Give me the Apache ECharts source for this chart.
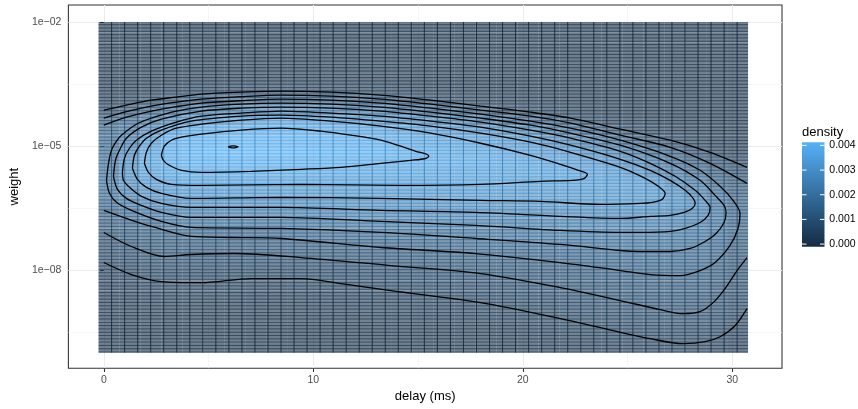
<!DOCTYPE html>
<html>
<head>
<meta charset="utf-8">
<script src="https://cdn.jsdelivr.net/npm/echarts@6/dist/echarts.min.js"></script>
<style>
  html, body { margin: 0; padding: 0; background: #ffffff; }
  #chart { width: 858px; height: 409px; }
</style>
</head>
<body>
<div id="chart"></div>
<script>
// Delay bin centres (ms)
const delayBins = [0.25, 1.25, 2.25, 3.25, 4.25, 5.25, 6.25, 7.25, 8.25, 9.25, 10.25, 11.25, 12.25, 13.25, 14.25, 15.25,
  16.25, 17.25, 18.25, 19.25, 20.25, 21.25, 22.25, 23.25, 24.25, 25.25, 26.25, 27.25, 28.25, 29.25, 30.25];

// log10(weight) bin centres, top row first
const logWeightBins = [-2.125, -2.375, -2.625, -2.875, -3.125, -3.375, -3.625, -3.875, -4.125, -4.375, -4.625,
  -4.875, -5.125, -5.375, -5.625, -5.875, -6.125, -6.375, -6.625, -6.875, -7.125, -7.375, -7.625, -7.875,
  -8.125, -8.375, -8.625, -8.875, -9.125, -9.375, -9.625, -9.875];

// Estimated 2D density (units of 1e-5), one row per delay bin, values follow logWeightBins
const DENSITY_UNIT = 1e-5;
const densityCols = [
  [0,0,0,0,0,1,3,12,45,101,128,139,150,163,170,174,158,137,117,99,80,66,53,40,28,19,12,7,4,2,1,0],
  [0,0,0,0,0,1,5,22,71,129,162,193,230,255,268,250,223,183,143,112,95,78,63,48,34,22,14,8,4,2,1,0],
  [0,0,0,0,0,2,9,38,110,175,232,290,326,335,322,298,264,223,176,130,107,90,74,59,44,31,19,11,6,3,1,0],
  [0,0,0,0,0,3,14,55,134,218,306,358,365,363,345,319,287,241,202,155,115,98,81,65,49,35,23,14,8,4,2,1],
  [0,0,0,0,1,4,20,76,172,264,338,368,382,374,360,329,297,259,215,174,130,101,78,64,49,36,25,15,9,4,2,1],
  [0,0,0,0,1,5,25,90,188,279,347,376,398,379,360,328,296,258,215,174,132,102,78,63,48,34,24,14,8,4,2,1],
  [0,0,0,0,1,5,28,100,199,291,355,385,395,377,360,327,296,258,215,174,133,102,78,62,45,31,20,12,6,3,1,0],
  [0,0,0,0,1,5,30,110,212,308,361,382,398,377,358,327,295,258,215,174,134,104,80,62,45,30,19,11,6,3,1,0],
  [0,0,0,0,1,6,32,120,223,323,364,382,395,375,356,326,294,257,215,174,135,106,82,63,45,30,19,11,6,3,1,0],
  [0,0,0,0,1,6,31,118,220,319,361,378,391,372,353,325,294,258,218,177,140,109,85,67,51,36,25,15,9,4,2,1],
  [0,0,0,0,1,5,28,110,212,304,352,373,388,370,351,325,294,259,220,180,144,113,89,70,54,38,27,17,10,5,2,1],
  [0,0,0,0,1,5,25,102,205,290,344,369,383,368,349,325,294,260,222,183,147,117,94,73,57,40,28,18,11,6,3,1],
  [0,0,0,0,1,4,22,93,196,283,337,365,379,365,346,325,296,262,226,188,152,122,98,76,60,43,30,20,12,7,3,1],
  [0,0,0,0,1,4,20,85,188,274,331,361,375,362,344,325,297,264,228,191,155,127,103,80,64,47,33,23,14,8,4,2],
  [0,0,0,0,1,3,15,62,165,254,320,345,365,359,342,325,298,265,230,194,159,131,107,85,67,51,37,26,16,10,5,2],
  [0,0,0,0,0,2,11,39,141,236,302,335,358,355,340,324,298,267,232,197,162,134,110,89,70,55,40,28,18,11,6,3],
  [0,0,0,0,0,1,8,31,119,218,288,326,344,351,337,323,298,268,234,200,166,138,113,92,73,57,42,30,20,12,7,3],
  [0,0,0,0,0,1,5,23,95,199,273,320,336,351,337,323,299,270,236,203,170,141,116,95,75,60,45,33,22,14,8,4],
  [0,0,0,0,0,1,4,16,71,175,256,306,329,343,334,322,299,271,237,206,174,145,119,99,79,64,48,36,25,16,10,5],
  [0,0,0,0,0,0,2,10,39,142,233,291,322,337,331,320,298,273,239,208,178,149,123,103,84,68,53,39,28,18,11,6],
  [0,0,0,0,0,0,1,7,30,113,209,279,310,328,330,318,297,274,240,210,181,153,128,107,89,73,59,44,32,22,14,8],
  [0,0,0,0,0,0,0,5,20,86,169,242,292,322,328,317,297,276,245,214,185,156,132,111,94,77,64,50,37,26,17,10],
  [0,0,0,0,0,0,0,3,14,58,140,216,275,307,323,315,297,279,249,219,190,162,139,118,100,83,70,57,44,33,23,15],
  [0,0,0,0,0,0,0,1,8,31,97,185,240,288,312,309,295,281,251,222,193,167,144,123,107,92,77,64,51,38,27,18],
  [0,0,0,0,0,0,0,0,4,18,63,138,211,264,296,304,293,281,253,223,195,171,149,128,111,97,83,70,56,43,31,21],
  [0,0,0,0,0,0,0,0,2,9,36,99,170,224,277,298,290,281,252,223,195,173,151,132,115,102,89,75,62,49,37,27],
  [0,0,0,0,0,0,0,0,1,4,20,67,122,185,228,281,286,275,246,219,194,172,152,134,117,105,93,81,68,54,40,29],
  [0,0,0,0,0,0,0,0,0,2,10,37,89,137,186,224,257,255,235,212,190,171,153,136,119,108,97,86,74,60,46,35],
  [0,0,0,0,0,0,0,0,0,1,5,14,49,89,130,174,208,238,216,197,178,159,144,130,116,104,93,81,69,56,44,33],
  [0,0,0,0,0,0,0,0,0,0,1,4,21,57,88,117,153,174,183,167,155,142,129,117,105,94,82,70,58,46,35,24],
  [0,0,0,0,0,0,0,0,0,0,0,2,9,36,62,85,100,115,124,119,110,101,93,84,76,67,58,50,41,30,20,13]
];

// Density contour paths, [delay, log10(weight)]; levels 0.0004 apart, outermost first
const level1Upper = [[0,-4.134],[1.081,-4.013],[2.271,-3.892],[3.462,-3.819],[4.652,-3.746],[6.557,-3.698],[8.462,-3.673],[10.843,-3.698],[13.224,-3.770],[15.605,-3.892],[17.986,-4.037],[20.367,-4.183],[22.271,-4.328],[24.652,-4.595],[27.033,-4.862],[28.938,-5.153],[30.700,-5.517]];
const level1Lower = [[0,-7.821],[1.319,-8.112],[2.748,-8.281],[4.652,-8.306],[7.033,-8.209],[9.414,-8.209],[11.319,-8.330],[13.700,-8.500],[17.986,-8.791],[21.795,-9.179],[24.319,-9.470],[26.081,-9.664],[27.652,-9.785],[28.700,-9.737],[29.414,-9.616],[30.129,-9.349],[30.700,-8.937]];
const level2Upper = [[0,-4.328],[1.081,-4.171],[2.271,-4.037],[3.462,-3.940],[4.652,-3.867],[6.557,-3.807],[8.462,-3.770],[10.843,-3.795],[13.224,-3.867],[15.605,-3.989],[17.986,-4.134],[20.367,-4.280],[22.271,-4.449],[24.652,-4.740],[27.033,-5.032],[28.938,-5.420],[30.700,-5.905]];
const level2Lower = [[0,-7.093],[1.319,-7.433],[2.890,-7.675],[4.176,-7.627],[6.224,-7.603],[9.414,-7.700],[13.700,-7.894],[17.986,-8.087],[21.795,-8.427],[24.652,-8.742],[26.557,-8.961],[27.652,-9.058],[28.462,-9.009],[29.081,-8.791],[29.652,-8.451],[30.224,-8.015],[30.700,-7.700]];
const level3 = [[0,-4.498],[1.081,-4.304],[2.271,-4.158],[3.462,-4.049],[4.652,-3.964],[6.557,-3.904],[8.462,-3.867],[10.843,-3.892],[13.224,-3.964],[15.605,-4.086],[17.986,-4.231],[20.367,-4.401],[22.271,-4.571],[24.652,-4.862],[27.033,-5.250],[28.462,-5.589],[29.414,-5.977],[30.033,-6.317],[30.367,-6.632],[30.271,-6.996],[29.890,-7.408],[29.176,-7.821],[28.462,-8.015],[27.510,-8.136],[26.081,-8.112],[24.652,-8.015],[21.795,-7.821],[17.748,-7.603],[13.224,-7.457],[8.462,-7.239],[6.081,-7.215],[4.176,-7.190],[2.271,-6.948],[1.081,-6.754],[0,-6.560]];
const level4 = [[0.129,-5.832],[0.224,-5.420],[0.367,-5.104],[0.605,-4.886],[0.843,-4.740],[1.557,-4.474],[2.271,-4.328],[3.462,-4.158],[4.652,-4.061],[6.557,-3.989],[8.462,-3.964],[10.843,-3.989],[13.224,-4.061],[15.605,-4.183],[17.986,-4.328],[20.367,-4.498],[22.271,-4.692],[24.652,-4.983],[27.033,-5.420],[28.462,-5.832],[29.176,-6.196],[29.605,-6.438],[29.700,-6.608],[29.605,-6.851],[29.224,-7.118],[28.700,-7.311],[27.986,-7.481],[27.033,-7.554],[25.605,-7.554],[24.652,-7.530],[21.795,-7.384],[17.748,-7.239],[13.224,-7.093],[8.462,-6.996],[4.176,-6.972],[2.748,-6.826],[1.319,-6.560],[0.605,-6.365],[0.271,-6.147],[0.129,-5.832]];
const level5 = [[0.462,-5.735],[0.557,-5.347],[0.748,-5.104],[1.081,-4.813],[1.795,-4.546],[2.748,-4.352],[4.652,-4.158],[6.557,-4.086],[8.462,-4.061],[10.843,-4.086],[13.224,-4.158],[15.605,-4.280],[17.986,-4.425],[20.367,-4.619],[22.271,-4.813],[24.652,-5.129],[26.081,-5.420],[27.271,-5.735],[28.224,-6.074],[28.700,-6.317],[28.938,-6.487],[28.843,-6.681],[28.462,-6.851],[27.748,-6.996],[27.033,-7.069],[25.605,-7.093],[24.652,-7.093],[21.795,-7.045],[17.748,-6.923],[13.224,-6.826],[8.462,-6.729],[4.176,-6.729],[2.748,-6.608],[1.795,-6.438],[1.081,-6.268],[0.652,-6.050],[0.462,-5.735]];
const level6 = [[0.890,-5.638],[0.986,-5.298],[1.224,-5.056],[1.557,-4.862],[2.271,-4.643],[3.462,-4.425],[4.652,-4.280],[6.557,-4.207],[8.462,-4.158],[10.843,-4.207],[13.224,-4.280],[15.605,-4.401],[17.986,-4.546],[20.367,-4.765],[22.271,-4.983],[24.652,-5.323],[26.081,-5.589],[27.033,-5.832],[27.748,-6.074],[28.129,-6.268],[28.224,-6.390],[28.081,-6.511],[27.700,-6.608],[27.033,-6.681],[26.081,-6.705],[24.652,-6.754],[21.795,-6.705],[17.748,-6.608],[13.224,-6.560],[8.462,-6.487],[4.176,-6.487],[2.748,-6.390],[1.795,-6.220],[1.224,-6.002],[0.938,-5.832],[0.890,-5.638]];
const level7 = [[1.367,-5.541],[1.462,-5.226],[1.700,-5.007],[2.033,-4.813],[2.748,-4.619],[4.176,-4.401],[6.557,-4.280],[8.462,-4.255],[10.843,-4.304],[13.224,-4.401],[15.605,-4.522],[17.986,-4.692],[20.367,-4.910],[22.271,-5.153],[24.652,-5.517],[25.843,-5.783],[26.462,-5.977],[26.795,-6.147],[26.652,-6.293],[26.176,-6.365],[25.605,-6.390],[23.700,-6.414],[20.843,-6.341],[17.986,-6.317],[13.224,-6.268],[8.462,-6.244],[4.176,-6.268],[2.748,-6.147],[2.033,-6.002],[1.605,-5.808],[1.367,-5.541]];
const level8 = [[1.938,-5.420],[2.033,-5.153],[2.271,-4.935],[2.748,-4.740],[3.462,-4.571],[4.652,-4.474],[6.557,-4.377],[8.462,-4.328],[10.843,-4.401],[13.224,-4.522],[15.605,-4.692],[17.986,-4.935],[20.367,-5.226],[21.795,-5.444],[22.652,-5.589],[23.081,-5.686],[22.938,-5.783],[22.367,-5.832],[20.843,-5.856],[17.986,-5.929],[14.176,-5.953],[9.414,-5.929],[4.652,-5.953],[3.224,-5.929],[2.510,-5.808],[2.129,-5.638],[1.938,-5.420]];
const level9 = [[2.748,-5.226],[2.890,-5.007],[3.224,-4.862],[3.700,-4.789],[4.652,-4.716],[6.557,-4.619],[8.462,-4.571],[10.367,-4.643],[11.795,-4.740],[13.224,-4.862],[14.176,-5.007],[14.890,-5.129],[15.414,-5.201],[15.510,-5.250],[15.319,-5.310],[14.652,-5.347],[13.224,-5.420],[11.319,-5.517],[9.414,-5.565],[7.033,-5.614],[4.652,-5.638],[3.700,-5.589],[3.129,-5.468],[2.843,-5.347],[2.748,-5.226]];
const level10 = [[5.938,-5.022],[6.057,-5.002],[6.176,-4.997],[6.295,-5.002],[6.414,-5.022],[6.295,-5.042],[6.176,-5.047],[6.057,-5.042],[5.938,-5.022]];

// Axis breaks
const delayTicks = [0, 10, 20, 30];
const delayMinorTicks = [5, 15, 25];
const weightTicks = [-8, -5, -2];
const weightMinorTicks = [-9.5, -6.5, -3.5];
const densityBreaks = [0, 0.001, 0.002, 0.003, 0.004];

// Fill scale
const FILL_LOW = [19, 43, 67];      // #132B43
const FILL_HIGH = [86, 177, 247];   // #56B1F7
const FILL_MIN = 0, FILL_MAX = 0.00402;
const TILE_ALPHA = 0.6;
const CELL_W = 1.0, CELL_H = 0.25;

function fillRGB(v) {
  let t = (v - FILL_MIN) / (FILL_MAX - FILL_MIN);
  t = Math.max(0, Math.min(1, t));
  return FILL_LOW.map((c, i) => Math.round(c + (FILL_HIGH[i] - c) * t));
}
function rgbStr(a) { return 'rgb(' + a[0] + ',' + a[1] + ',' + a[2] + ')'; }

const tileData = [];
delayBins.forEach((dx, i) => {
  logWeightBins.forEach((lw, j) => {
    tileData.push([dx, lw, densityCols[i][j] * DENSITY_UNIT]);
  });
});

// Fine raster of the underlying estimate grid, used for the tile texture
const FINE_Y0 = -10, FINE_Y1 = -2, FINE_NY = 100;
const FINE_X0 = -0.25, FINE_X1 = 30.85, FINE_NX = 100;

function renderTile(params, api) {
  const x = api.value(0), lw = api.value(1), d = api.value(2);
  const x0 = x - CELL_W / 2, x1 = x + CELL_W / 2;
  const yb = lw - CELL_H / 2, yt = lw + CELL_H / 2;
  const pTL = api.coord([x0, yt]);
  const pBR = api.coord([x1, yb]);
  const left = pTL[0], top = pTL[1];
  const w = pBR[0] - pTL[0], h = pBR[1] - pTL[1];
  const rgb = fillRGB(d);
  const col = rgbStr(rgb);
  const dark = rgbStr(rgb.map(c => Math.round(c * 0.82)));
  const children = [{
    type: 'rect', shape: { x: left, y: top, width: w, height: h },
    style: { fill: col, opacity: TILE_ALPHA }
  }];
  const dy = (FINE_Y1 - FINE_Y0) / FINE_NY;
  for (let k = 0; k < FINE_NY; k++) {
    const e = FINE_Y0 + k * dy;
    if (e < yb - 1e-9 || e >= yt - 1e-9) continue;
    const py = api.coord([x, e])[1];
    children.push({
      type: 'rect', shape: { x: left, y: py - 1.1, width: w, height: 1.1 },
      style: { fill: col, opacity: TILE_ALPHA }
    });
  }
  const dxf = (FINE_X1 - FINE_X0) / FINE_NX;
  for (let k = 2; k < FINE_NX; k += 2) {
    const xe = FINE_X0 + k * dxf;
    if (xe < x0 - 1e-9 || xe >= x1 - 1e-9) continue;
    const px = api.coord([xe, lw])[0];
    children.push({
      type: 'rect', shape: { x: px - 0.5, y: top, width: 1, height: h },
      style: { fill: dark, opacity: 0.85 }
    });
  }
  return { type: 'group', children: children };
}

const contourPaths = [level1Upper, level1Lower, level2Upper, level2Lower, level3, level4,
  level5, level6, level7, level8, level9, level10];

const contourSeries = contourPaths.map(path => ({
  type: 'line',
  data: path,
  xAxisIndex: 0,
  yAxisIndex: 0,
  showSymbol: false,
  symbol: 'none',
  smooth: 0.3,
  silent: true,
  animation: false,
  z: 5,
  lineStyle: { color: '#000000', width: 1.3 }
}));

function sciLabel(v) {
  const n = Math.round(Math.abs(v));
  return '1e' + (v < 0 ? '\u2212' : '+') + (n < 10 ? '0' + n : '' + n);
}

// Colour bar guide
const BAR_X = 802, BAR_Y = 142.3, BAR_W = 22.5, BAR_H = 104.4;
const BAR_INSET = BAR_H / 40;
function barY(v) {
  return BAR_Y + BAR_H - BAR_INSET - (v - FILL_MIN) / (FILL_MAX - FILL_MIN) * (BAR_H - 2 * BAR_INSET);
}
const legendElements = [
  {
    type: 'text', left: BAR_X, top: 126,
    style: { text: 'density', fill: '#000000', font: '13px "Liberation Sans", Arial, sans-serif' }
  },
  {
    type: 'rect', shape: { x: BAR_X, y: BAR_Y, width: BAR_W, height: BAR_H },
    style: {
      fill: new echarts.graphic.LinearGradient(0, 1, 0, 0, [
        { offset: 0, color: rgbStr(FILL_LOW) },
        { offset: 1, color: rgbStr(FILL_HIGH) }
      ])
    }
  }
];
densityBreaks.forEach(v => {
  const y = barY(v);
  legendElements.push({
    type: 'line', shape: { x1: BAR_X, y1: y, x2: BAR_X + BAR_W / 5, y2: y },
    style: { stroke: '#ffffff', lineWidth: 1 }
  });
  legendElements.push({
    type: 'line', shape: { x1: BAR_X + BAR_W * 4 / 5, y1: y, x2: BAR_X + BAR_W, y2: y },
    style: { stroke: '#ffffff', lineWidth: 1 }
  });
  legendElements.push({
    type: 'text', x: 829.3, y: y,
    style: {
      text: v.toFixed(3), fill: '#000000', font: '10.5px "Liberation Sans", Arial, sans-serif',
      textAlign: 'left', textVerticalAlign: 'middle'
    }
  });
});

const chart = echarts.init(document.getElementById('chart'), null, { renderer: 'canvas' });

const axisFont = '"Liberation Sans", Arial, sans-serif';
chart.setOption({
  animation: false,
  backgroundColor: '#ffffff',
  grid: {
    left: 67, top: 5, width: 715, height: 363.3,
    show: true, backgroundColor: '#ffffff', borderColor: '#333333', borderWidth: 1.07
  },
  xAxis: [
    {
      type: 'value', min: -1.69, max: 32.37,
      name: 'delay (ms)', nameLocation: 'middle', nameGap: 20,
      nameTextStyle: { color: '#000000', fontSize: 13, fontFamily: axisFont },
      axisLine: { show: false },
      axisTick: { show: true, customValues: delayTicks, length: 3.7, lineStyle: { color: '#333333', width: 1.07 } },
      axisLabel: { show: true, customValues: delayTicks, margin: 6, color: '#4D4D4D', fontSize: 10.5, fontFamily: axisFont },
      splitLine: { show: true, lineStyle: { color: '#EBEBEB', width: 1.07 } }
    },
    {
      type: 'value', min: -1.69, max: 32.37, position: 'bottom',
      axisLine: { show: false },
      axisTick: { show: false, customValues: delayMinorTicks },
      axisLabel: { show: false, customValues: delayMinorTicks },
      splitLine: { show: true, lineStyle: { color: '#F0F0F0', width: 0.6 } }
    }
  ],
  yAxis: [
    {
      type: 'value', min: -10.38, max: -1.59,
      name: 'weight', nameLocation: 'middle', nameGap: 41, nameRotate: 90,
      nameTextStyle: { color: '#000000', fontSize: 13, fontFamily: axisFont },
      axisLine: { show: false },
      axisTick: { show: true, customValues: weightTicks, length: 3.7, lineStyle: { color: '#333333', width: 1.07 } },
      axisLabel: { show: true, customValues: weightTicks, margin: 7, color: '#4D4D4D', fontSize: 10.5, fontFamily: axisFont, formatter: sciLabel },
      splitLine: { show: true, lineStyle: { color: '#EBEBEB', width: 1.07 } }
    },
    {
      type: 'value', min: -10.38, max: -1.59, position: 'left',
      axisLine: { show: false },
      axisTick: { show: false, customValues: weightMinorTicks },
      axisLabel: { show: false, customValues: weightMinorTicks },
      splitLine: { show: true, lineStyle: { color: '#F0F0F0', width: 0.6 } }
    }
  ],
  graphic: { elements: legendElements },
  series: [
    {
      type: 'custom',
      name: 'density',
      xAxisIndex: 0,
      yAxisIndex: 0,
      dimensions: ['delay', 'logWeight', 'density'],
      encode: { x: 0, y: 1 },
      data: tileData,
      renderItem: renderTile,
      silent: true,
      animation: false,
      z: 2
    }
  ].concat(contourSeries)
});
</script>
</body>
</html>
